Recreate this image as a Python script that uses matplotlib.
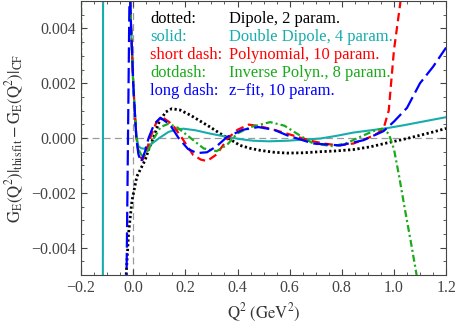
import numpy as np
import matplotlib
matplotlib.use("Agg")
import matplotlib.pyplot as plt

plt.rcParams['font.family'] = ['Liberation Serif', 'DejaVu Serif']
plt.rcParams['mathtext.fontset'] = 'stix'
plt.rcParams['lines.scale_dashes'] = False

#%% data (Q^2 in GeV^2, difference in G_E)
# dotted: Dipole, 2 param.
x_dip = [-0.03, -0.018, -0.005, 0.014, 0.03, 0.046, 0.06, 0.077, 0.10, 0.125, 0.148, 0.18,
         0.22, 0.26, 0.295, 0.334, 0.372, 0.41, 0.45, 0.487, 0.54, 0.59, 0.65, 0.717, 0.78,
         0.845, 0.91, 0.973, 1.04, 1.1, 1.15, 1.2]
y_dip = [-0.0055, -0.0035, -0.0023, -0.0014, -0.0011, -0.0008, -0.0004, 0.0, 0.0006, 0.00095,
         0.00107, 0.00102, 0.00083, 0.0006, 0.0004, 0.00016, -0.00005, -0.00027, -0.00038,
         -0.00045, -0.00052, -0.00055, -0.00054, -0.0005, -0.00047, -0.00042, -0.00032,
         -0.00018, -0.00004, 0.0001, 0.00022, 0.00035]

# solid: Double Dipole, 4 param.
x_ddip = [-0.1165, -0.1155, -0.012, -0.008, -0.004, 0.0, 0.006, 0.012, 0.02, 0.03, 0.04, 0.055,
          0.075, 0.1, 0.135, 0.165, 0.193, 0.24, 0.295, 0.36, 0.41, 0.46, 0.52, 0.59, 0.65,
          0.717, 0.78, 0.845, 0.91, 0.973, 1.04, 1.1, 1.15, 1.2]
y_ddip = [-0.006, 0.006, 0.0052, 0.004, 0.003, 0.002, 0.001, 0.0001, -0.0003, -0.00037,
          -0.00039, -0.00033, -0.00018, 0.0, 0.00022, 0.00031, 0.00034, 0.00028, 0.00016,
          0.00004, -0.00004, -0.0001, -0.00012, -0.0001, -0.00006, -0.00002, 0.00008,
          0.0002, 0.00028, 0.00036, 0.00047, 0.00058, 0.00067, 0.00076]

# short dash: Polynomial, 10 param.
x_poly = [-0.012, -0.008, -0.004, 0.0, 0.006, 0.012, 0.02, 0.028, 0.036, 0.05, 0.065, 0.09,
          0.116, 0.15, 0.187, 0.23, 0.26, 0.283, 0.32, 0.364, 0.4, 0.443, 0.49, 0.54, 0.59,
          0.68, 0.73, 0.787, 0.845, 0.9, 0.935, 0.96, 0.98, 1.0, 1.024, 1.03]
y_poly = [0.0052, 0.004, 0.003, 0.002, 0.001, 0.0, -0.0005, -0.0007, -0.0008, -0.0005, 0.0,
          0.0006, 0.00073, 0.0005, 0.0, -0.00062, -0.00079, -0.00084, -0.0006, 0.0, 0.0003,
          0.00049, 0.00042, 0.0003, 0.00016, -0.0001, -0.0002, -0.00027, -0.0002, 0.0,
          0.00016, 0.00034, 0.001, 0.0032, 0.0049, 0.0055]

# dotdash: Inverse Polyn., 8 param.
x_inv = [-0.2005, -0.1995, -0.012, -0.008, -0.004, 0.0, 0.006, 0.012, 0.02, 0.03, 0.04, 0.06,
         0.08, 0.105, 0.135, 0.17, 0.22, 0.27, 0.32, 0.36, 0.398, 0.45, 0.525, 0.58, 0.628,
         0.69, 0.767, 0.82, 0.87, 0.92, 0.954, 0.98, 1.0, 1.02, 1.042, 1.065, 1.087, 1.095]
y_inv = [-0.006, 0.006, 0.0052, 0.004, 0.003, 0.002, 0.001, 0.0, -0.0004, -0.0006, -0.0007,
         -0.0004, 0.0, 0.0004, 0.00052, 0.00038, 0.0, -0.00038, -0.00048, -0.00025, 0.00016,
         0.0004, 0.00058, 0.00045, 0.00016, -0.0002, -0.0003, -0.00018, 0.00004, 0.00025,
         0.00034, 0.00016, -0.0004, -0.0014, -0.0026, -0.0038, -0.005, -0.0056]

# long dash: z-fit, 10 param.
x_zfit = [-0.026, -0.014, -0.012, -0.008, -0.004, 0.0, 0.006, 0.012, 0.02, 0.03, 0.045, 0.059,
          0.08, 0.104, 0.14, 0.174, 0.21, 0.244, 0.283, 0.32, 0.36, 0.42, 0.48, 0.54, 0.59,
          0.69, 0.794, 0.883, 0.96, 1.0, 1.05, 1.1, 1.15, 1.2]
y_zfit = [-0.0055, 0.0055, 0.0052, 0.004, 0.003, 0.002, 0.001, 0.0, -0.0006, -0.00087, -0.0005,
          0.0, 0.0005, 0.00074, 0.0005, 0.0, -0.0004, -0.00055, -0.00052, -0.0003, 0.00004,
          0.0003, 0.0004, 0.0003, 0.0001, -0.0002, -0.00027, -0.00008, 0.00025, 0.0006,
          0.0011, 0.002, 0.0026, 0.0033]

cyan = '#17adad'
green = '#1aaa1a'

legend_keys = ['dotted:', 'solid:', 'short dash:', 'dotdash:', 'long dash:']
legend_names = ['Dipole, 2 param.', 'Double Dipole, 4 param.', 'Polynomial, 10 param.',
                'Inverse Polyn., 8 param.', 'z\u2212fit, 10 param.']
legend_colors = ['black', cyan, 'red', green, 'blue']

#%% plot
fig = plt.figure(figsize=(4.58, 3.29), dpi=100)
ax = fig.add_axes([0.177, 0.164, 0.797, 0.833])

ax.axhline(0, color='#9a9a9a', lw=0.9, dashes=(5, 3), zorder=1)
ax.axvline(0, color='#9a9a9a', lw=0.9, dashes=(5, 3), zorder=1)

ax.plot(x_dip, y_dip, color='black', lw=2.0, dashes=(1.6, 1.8))
ax.plot(x_ddip, y_ddip, color=cyan, lw=1.5)
ax.plot(x_poly, y_poly, color='red', lw=1.6, dashes=(6, 3.5))
ax.plot(x_inv, y_inv, color=green, lw=1.6, dashes=(5, 2.2, 1.5, 2.2))
ax.plot(x_zfit, y_zfit, color='blue', lw=1.6, dashes=(11, 3.8))

ax.set_xlim(-0.2, 1.2)
ax.set_ylim(-0.005, 0.005)
ax.set_xticks(np.arange(-0.2, 1.21, 0.2))
ax.set_xticks(np.arange(-0.2, 1.21, 0.05), minor=True)
ax.set_yticks(np.arange(-0.004, 0.0041, 0.002))
ax.set_yticks(np.arange(-0.005, 0.0051, 0.0005), minor=True)
ax.xaxis.set_major_formatter(matplotlib.ticker.FuncFormatter(lambda v, p: ('%.1f' % v).replace('-', '\u2212')))
ax.yaxis.set_major_formatter(matplotlib.ticker.FuncFormatter(lambda v, p: ('%.3f' % v).replace('-', '\u2212')))
ax.tick_params(which='both', direction='in', top=True, right=True, color='#444444',
               labelsize=11.5, labelcolor='#444444')
ax.tick_params(which='major', length=4)
ax.tick_params(which='minor', length=2)
for s in ax.spines.values():
    s.set_color('#444444')

ax.set_xlabel(r'$\mathrm{Q^2\ (GeV^2)}$', fontsize=12, color='#333333', labelpad=4)
ax.set_ylabel(r'$\mathrm{G_E(Q^2)|_{this\,fit}-G_E(Q^2)|_{CF}}$', fontsize=12,
              color='#333333', labelpad=4)

for i in range(len(legend_keys)):
    yy = 0.934 - i * 0.0657
    ax.text(0.189, yy, legend_keys[i], color=legend_colors[i], fontsize=11.9,
            transform=ax.transAxes, va='center')
    ax.text(0.405, yy, legend_names[i], color=legend_colors[i], fontsize=11.9,
            transform=ax.transAxes, va='center')

plt.savefig('out.png', dpi=100)
